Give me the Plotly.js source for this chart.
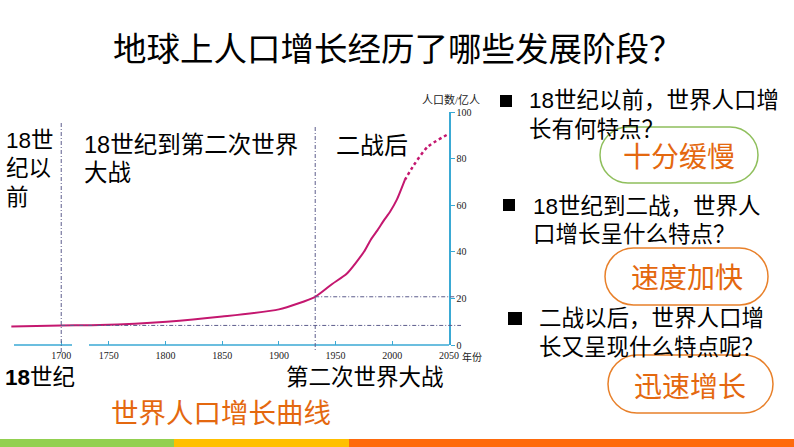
<!DOCTYPE html>
<html><head><meta charset="utf-8">
<script src="https://cdn.plot.ly/plotly-3.0.1.min.js"></script>
<style>html,body{margin:0;padding:0;background:#fff}#chart{width:794px;height:447px}</style>
</head><body><div id="chart"></div>
<script>
// ---- data (x = position on the broken year axis; 1700 sits left of the axis break) ----
const solidYears = [1664, 1708, 1742, 1801, 1850, 1900, 1932, 1947, 1960, 1975, 1981, 1987, 1993, 1998, 2004, 2011];
const solidPop   = [7.9, 8.4, 8.6, 10.0, 12.2, 15.3, 20.7, 26.2, 30.7, 40.0, 45.2, 49.3, 53.8, 57.2, 62.4, 70.8];
const projYears  = [2011, 2019, 2031, 2050];
const projPop    = [70.8, 77.2, 85.0, 90.7];
const tickVals   = [1708, 1750, 1800, 1850, 1900, 1950, 2000, 2050];
const tickText   = ['1700', '1750', '1800', '1850', '1900', '1950', '2000', '2050'];
const yTicks     = [0, 20, 40, 60, 80, 100];
const markYear1700 = 1708;   // position of the "1700" label
const markYearWW2  = 1932;   // end of World War II marker
const pop1700 = solidPop[solidYears.indexOf(markYear1700)];
const popWW2  = solidPop[solidYears.indexOf(markYearWW2)];

// ---- layout geometry ----
const W = 794, H = 447, ML = 0, MR = 345, MT = 112, MB = 102;
const PW = W - ML - MR, PH = H - MT - MB;
const XR = [1654, 2050];
const px = x => (x - ML) / PW;
const py = y => (H - MB - y) / PH;
const yr = v => (v - XR[0]) / (XR[1] - XR[0]);

const SANS = 'Liberation Sans, Noto Sans CJK SC, sans-serif';
const CJK = 'Noto Sans CJK SC, sans-serif';
const SERIF = 'Liberation Serif, Noto Sans CJK SC, serif';
const AXC = '#3aa9d4';
const ORANGE = '#e4680f';

function txt(text, x, y, size, opts = {}) {
  return Object.assign({
    text, xref: 'paper', yref: 'paper', x: px(x), y: py(y),
    xanchor: opts.xanchor || 'left', yanchor: 'middle', showarrow: false,
    font: { family: opts.family || SANS, size, color: opts.color || '#000' }
  }, opts.extra || {});
}

function stadium(x0, x1, y0, y1, color) {
  const r = (y1 - y0) / 2, k = 0.5523 * r;
  const P = (x, y) => px(x).toFixed(5) + ',' + py(y).toFixed(5);
  const path = 'M' + P(x0 + r, y0) + ' L' + P(x1 - r, y0) +
    ' C' + P(x1 - r + k, y0) + ' ' + P(x1, y0 + r - k) + ' ' + P(x1, y0 + r) +
    ' C' + P(x1, y0 + r + k) + ' ' + P(x1 - r + k, y1) + ' ' + P(x1 - r, y1) +
    ' L' + P(x0 + r, y1) +
    ' C' + P(x0 + r - k, y1) + ' ' + P(x0, y0 + r + k) + ' ' + P(x0, y0 + r) +
    ' C' + P(x0, y0 + r - k) + ' ' + P(x0 + r - k, y0) + ' ' + P(x0 + r, y0) + ' Z';
  return { type: 'path', xref: 'paper', yref: 'paper', path, line: { color, width: 1.5 } };
}
function rect(x0, x1, y0, y1, color) {
  return { type: 'rect', xref: 'paper', yref: 'paper', x0: px(x0), x1: px(x1), y0: py(y1), y1: py(y0),
    fillcolor: color, line: { width: 0 } };
}
const guide = { color: '#5c5c8c', width: 1, dash: '4px,2px,1px,2px' };

const traces = [
  { x: solidYears, y: solidPop, type: 'scatter', mode: 'lines',
    line: { color: '#c4176f', width: 2, shape: 'spline', smoothing: 0.6 }, hoverinfo: 'skip' },
  { x: projYears, y: projPop, type: 'scatter', mode: 'lines',
    line: { color: '#c4176f', width: 2.5, dash: 'dot', shape: 'spline', smoothing: 0.6 }, hoverinfo: 'skip' }
];

const shapes = [
  // broken x axis line
  { type: 'line', xref: 'paper', yref: 'paper', x0: px(14), x1: px(72), y0: 0, y1: 0, line: { color: AXC, width: 1.5 } },
  { type: 'line', xref: 'paper', yref: 'paper', x0: px(89), x1: yr(2050), y0: 0, y1: 0, line: { color: AXC, width: 1.5 } },
  // guide lines
  { type: 'line', xref: 'paper', yref: 'paper', x0: yr(markYear1700), x1: yr(markYear1700), y0: py(123), y1: py(352), line: guide },
  { type: 'line', xref: 'paper', yref: 'paper', x0: yr(markYearWW2), x1: yr(markYearWW2), y0: py(127), y1: py(350), line: guide },
  { type: 'line', xref: 'paper', yref: 'paper', x0: yr(markYear1700), x1: px(461), y0: pop1700 / 100, y1: pop1700 / 100, line: guide },
  { type: 'line', xref: 'paper', yref: 'paper', x0: yr(markYearWW2), x1: px(461), y0: popWW2 / 100, y1: popWW2 / 100, line: guide },
  // bullets
  rect(500, 512, 95, 107, '#000'),
  rect(503, 515, 199, 211, '#000'),
  rect(508, 522, 312, 325, '#000'),
  // ovals
  stadium(600, 758, 127, 183, '#8fbf5c'),
  stadium(605, 768, 248, 305, '#e8802a'),
  stadium(608, 773, 355, 413, '#e8802a'),
  // bottom colour bar
  rect(0, 174, 439, 447, '#92d050'),
  rect(174, 349, 439, 447, '#ffc000'),
  rect(349, 794, 439, 447, '#fe6a0c')
];

const annotations = [
  txt('地球上人口增长经历了哪些发展阶段？', 398, 47, 33.5, { xanchor: 'center', family: CJK }),
  txt('18世', 4, 140, 22.5), txt('纪以', 4, 168, 22.5), txt('前', 4, 197, 22.5),
  txt('18世纪到第二次世界', 82, 145, 23.5), txt('大战', 82, 173, 23.5),
  txt('二战后', 334, 145, 24),
  txt('<b>18</b>世纪', 3, 377, 22.5),
  txt('第二次世界大战', 284, 377, 22.5),
  txt('世界人口增长曲线', 109, 413, 27.5, { color: ORANGE }),
  txt('人口数/亿人', 451, 100, 11, { xanchor: 'center', family: SERIF, color: '#222' }),
  txt('年份', 460, 357, 10, { family: SERIF, color: '#222' }),
  txt('18世纪以前，世界人口增', 527, 100, 22.5), txt('长有何特点？', 527, 129, 22.5),
  txt('十分缓慢', 679, 157, 28, { xanchor: 'center', color: ORANGE }),
  txt('18世纪到二战，世界人', 531, 206, 22.5), txt('口增长呈什么特点？', 531, 234, 22.5),
  txt('速度加快', 687, 278, 28, { xanchor: 'center', color: ORANGE }),
  txt('二战以后，世界人口增', 537, 318, 22.5), txt('长又呈现什么特点呢？', 537, 347, 22.5),
  txt('迅速增长', 690, 387, 28, { xanchor: 'center', color: ORANGE })
];

const layout = {
  width: W, height: H, margin: { l: ML, r: MR, t: MT, b: MB, pad: 0 },
  paper_bgcolor: '#fff', plot_bgcolor: 'rgba(0,0,0,0)', showlegend: false,
  xaxis: { range: XR, showline: false, showgrid: false, zeroline: false,
    tickmode: 'array', tickvals: tickVals, ticktext: tickText,
    ticks: 'inside', ticklen: 4, tickcolor: AXC, tickwidth: 1, ticklabelstandoff: 3,
    tickfont: { family: SERIF, size: 10, color: '#222' }, fixedrange: true },
  yaxis: { range: [0, 100], side: 'right', showline: true, linecolor: AXC, linewidth: 1.5,
    showgrid: false, zeroline: false, tickmode: 'array', tickvals: yTicks,
    ticks: 'outside', ticklen: 4, tickcolor: AXC, tickwidth: 1,
    tickfont: { family: SERIF, size: 10, color: '#222' }, fixedrange: true },
  shapes, annotations
};

Plotly.newPlot('chart', traces, layout, { staticPlot: true, displayModeBar: false });
</script>
</body></html>
